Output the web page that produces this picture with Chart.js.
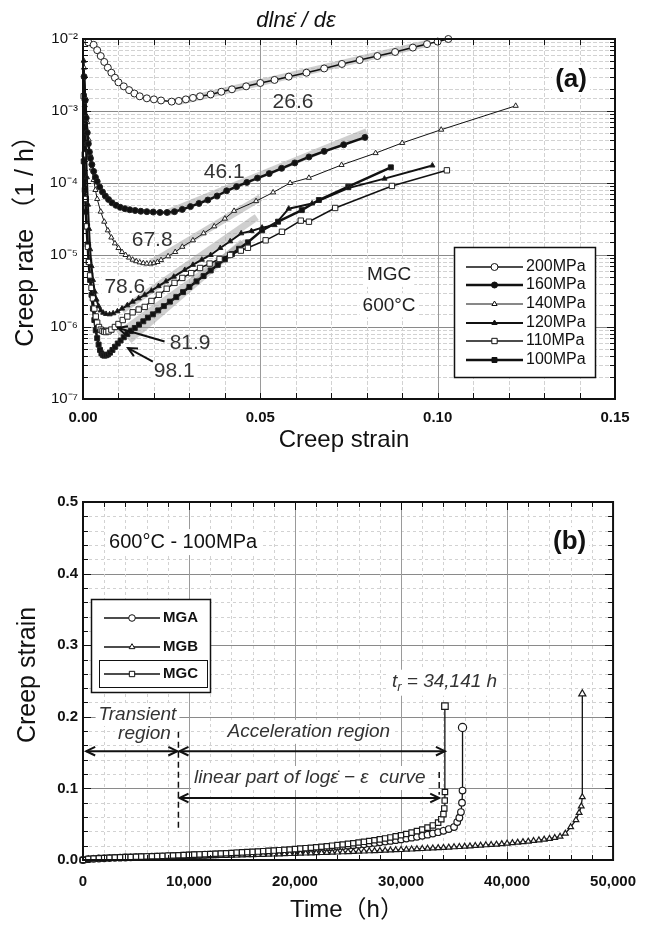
<!DOCTYPE html>
<html>
<head>
<meta charset="utf-8">
<script src="https://cdn.jsdelivr.net/npm/chart.js@4.4.1/dist/chart.umd.min.js"></script>
<style>
  body { margin: 0; background: #fff; }
  #wrap { position: relative; width: 649px; height: 926px; }
  canvas { position: absolute; left: 0; }
  #rateChart { top: 0; }
  #strainChart { top: 470px; }
</style>
</head>
<body>
<div id="wrap">
  <canvas id="rateChart" width="649" height="470"></canvas>
  <canvas id="strainChart" width="649" height="456"></canvas>
</div>
<script>
// ---- (a) creep rate against creep strain, MGC at 600 C ----
var stressNames = ['200MPa', '160MPa', '140MPa', '120MPa', '110MPa', '100MPa'];

var strain200 = [0.0015, 0.003, 0.004, 0.005, 0.006, 0.007, 0.008, 0.009, 0.010, 0.0115, 0.013, 0.0145, 0.016, 0.018, 0.020, 0.022, 0.025, 0.027, 0.029, 0.031, 0.033, 0.036, 0.039, 0.042, 0.046, 0.050, 0.054, 0.058, 0.063, 0.068, 0.073, 0.078, 0.083, 0.088, 0.093, 0.097, 0.100, 0.103];
var rate200 = [9e-3, 8.3e-3, 7e-3, 5.8e-3, 4.8e-3, 4e-3, 3.4e-3, 2.9e-3, 2.5e-3, 2.2e-3, 1.95e-3, 1.75e-3, 1.6e-3, 1.5e-3, 1.45e-3, 1.4e-3, 1.35e-3, 1.38e-3, 1.45e-3, 1.52e-3, 1.6e-3, 1.7e-3, 1.85e-3, 2.0e-3, 2.2e-3, 2.45e-3, 2.7e-3, 3.0e-3, 3.4e-3, 3.9e-3, 4.5e-3, 5.1e-3, 5.8e-3, 6.6e-3, 7.6e-3, 8.5e-3, 9.2e-3, 1.0e-2];

var strain160 = [0.0003, 0.0006, 0.0009, 0.0012, 0.0015, 0.0018, 0.0021, 0.0025, 0.003, 0.0035, 0.004, 0.0047, 0.0055, 0.0063, 0.0072, 0.0082, 0.0093, 0.0105, 0.0118, 0.0132, 0.0147, 0.0163, 0.018, 0.0198, 0.0217, 0.0237, 0.0258, 0.028, 0.0303, 0.0327, 0.0352, 0.0378, 0.0405, 0.0433, 0.0462, 0.0492, 0.0525, 0.056, 0.0597, 0.0637, 0.068, 0.0735, 0.0795];
var rate160 = [3e-3, 1.4e-3, 8e-4, 5e-4, 3.5e-4, 2.7e-4, 2.2e-4, 1.8e-4, 1.45e-4, 1.2e-4, 1.05e-4, 8.8e-5, 7.5e-5, 6.6e-5, 5.9e-5, 5.3e-5, 4.9e-5, 4.6e-5, 4.4e-5, 4.25e-5, 4.15e-5, 4.05e-5, 4.0e-5, 3.95e-5, 3.9e-5, 3.9e-5, 4.0e-5, 4.3e-5, 4.7e-5, 5.2e-5, 5.8e-5, 6.6e-5, 7.8e-5, 8.9e-5, 1.02e-4, 1.17e-4, 1.35e-4, 1.6e-4, 1.9e-4, 2.3e-4, 2.75e-4, 3.4e-4, 4.3e-4];

var strain140 = [0.0003, 0.0008, 0.0012, 0.0016, 0.002, 0.0025, 0.003, 0.0035, 0.004, 0.005, 0.006, 0.007, 0.008, 0.009, 0.010, 0.011, 0.012, 0.013, 0.014, 0.015, 0.016, 0.017, 0.018, 0.019, 0.020, 0.021, 0.022, 0.024, 0.026, 0.028, 0.031, 0.034, 0.037, 0.040, 0.0426, 0.0488, 0.0536, 0.0584, 0.0637, 0.0729, 0.0825, 0.090, 0.101, 0.122];
var rate140 = [4e-3, 1.5e-3, 7e-4, 4e-4, 2.5e-4, 1.6e-4, 1.1e-4, 8e-5, 6e-5, 4e-5, 2.9e-5, 2.2e-5, 1.75e-5, 1.45e-5, 1.25e-5, 1.1e-5, 1.0e-5, 9.2e-6, 8.6e-6, 8.2e-6, 7.9e-6, 7.7e-6, 7.6e-6, 7.6e-6, 7.7e-6, 8.0e-6, 8.5e-6, 9.6e-6, 1.1e-5, 1.3e-5, 1.6e-5, 2.0e-5, 2.5e-5, 3.2e-5, 4.1e-5, 5.6e-5, 7.4e-5, 1.0e-4, 1.18e-4, 1.78e-4, 2.6e-4, 3.6e-4, 5.5e-4, 1.18e-3];

var strain120 = [0.0002, 0.0005, 0.0008, 0.0011, 0.0014, 0.0017, 0.002, 0.0024, 0.0028, 0.0033, 0.0038, 0.0044, 0.005, 0.0057, 0.0065, 0.0075, 0.0085, 0.0097, 0.011, 0.0125, 0.014, 0.0157, 0.0174, 0.0193, 0.0213, 0.0234, 0.0256, 0.0287, 0.031, 0.0335, 0.036, 0.0387, 0.0415, 0.0446, 0.0475, 0.0505, 0.054, 0.058, 0.0646, 0.0748, 0.085, 0.0985];
var rate120 = [5e-3, 1.2e-3, 3.5e-4, 1.2e-4, 5e-5, 2.3e-5, 1.2e-5, 7e-6, 4.5e-6, 3.1e-6, 2.4e-6, 1.95e-6, 1.7e-6, 1.58e-6, 1.52e-6, 1.5e-6, 1.55e-6, 1.65e-6, 1.8e-6, 2.0e-6, 2.25e-6, 2.5e-6, 2.8e-6, 3.2e-6, 3.7e-6, 4.3e-6, 5.0e-6, 6.2e-6, 7.3e-6, 8.6e-6, 1.0e-5, 1.25e-5, 1.55e-5, 2.0e-5, 2.15e-5, 2.4e-5, 2.6e-5, 4.4e-5, 5.2e-5, 8.5e-5, 1.15e-4, 1.75e-4];

var strain110 = [0.0002, 0.0005, 0.0008, 0.0011, 0.0014, 0.0017, 0.002, 0.0024, 0.0028, 0.0032, 0.0036, 0.004, 0.0045, 0.005, 0.0055, 0.006, 0.0065, 0.0072, 0.008, 0.009, 0.010, 0.0112, 0.0125, 0.014, 0.0157, 0.0174, 0.0193, 0.0214, 0.0236, 0.0258, 0.028, 0.0305, 0.033, 0.0357, 0.0385, 0.0415, 0.0445, 0.0465, 0.0515, 0.0561, 0.0614, 0.0637, 0.0711, 0.0871, 0.1026];
var rate110 = [1.6e-3, 2.5e-4, 6e-5, 2.5e-5, 1.3e-5, 8e-6, 5.2e-6, 3.5e-6, 2.5e-6, 1.8e-6, 1.4e-6, 1.15e-6, 1.0e-6, 9.2e-7, 8.8e-7, 8.6e-7, 8.5e-7, 8.7e-7, 9.2e-7, 1.0e-6, 1.1e-6, 1.25e-6, 1.4e-6, 1.6e-6, 1.75e-6, 1.9e-6, 2.3e-6, 2.8e-6, 3.4e-6, 4.1e-6, 4.8e-6, 5.6e-6, 6.6e-6, 7.6e-6, 8.8e-6, 1.0e-5, 1.15e-5, 1.26e-5, 1.6e-5, 2.1e-5, 3.0e-5, 2.9e-5, 4.5e-5, 9.1e-5, 1.5e-4];

var strain100 = [0.0002, 0.0005, 0.0008, 0.001, 0.0013, 0.0016, 0.002, 0.0024, 0.0028, 0.0032, 0.0036, 0.004, 0.0044, 0.0048, 0.0052, 0.0056, 0.006, 0.0065, 0.007, 0.0076, 0.0083, 0.009, 0.0098, 0.0106, 0.0115, 0.0125, 0.0135, 0.0146, 0.0158, 0.017, 0.0183, 0.0197, 0.0212, 0.0228, 0.0245, 0.0263, 0.0282, 0.030, 0.032, 0.034, 0.036, 0.038, 0.040, 0.042, 0.044, 0.0465, 0.0505, 0.055, 0.0617, 0.0665, 0.0748, 0.0868];
var rate100 = [2e-4, 8e-5, 4e-5, 2.5e-5, 1.4e-5, 8e-6, 4.5e-6, 2.8e-6, 1.8e-6, 1.25e-6, 9e-7, 7e-7, 5.7e-7, 4.8e-7, 4.3e-7, 4.1e-7, 4.0e-7, 4.05e-7, 4.15e-7, 4.4e-7, 4.8e-7, 5.3e-7, 5.9e-7, 6.5e-7, 7.2e-7, 8.0e-7, 8.8e-7, 9.7e-7, 1.08e-6, 1.2e-6, 1.35e-6, 1.5e-6, 1.7e-6, 1.95e-6, 2.25e-6, 2.6e-6, 3.05e-6, 3.6e-6, 4.3e-6, 5.1e-6, 6.1e-6, 7.3e-6, 8.7e-6, 1.03e-5, 1.22e-5, 1.5e-5, 2.2e-5, 2.9e-5, 4.2e-5, 5.8e-5, 8.9e-5, 1.65e-4];

// straight parts of the log-rate curves: slope d ln(rate)/d strain and where each fit runs
var fitSlope = [26.6, 46.1, 67.8, 78.6, 81.9, 98.1];
var fitFromStrain = [0.027, 0.024, 0.019, 0.011, 0.010, 0.013];
var fitFromRate = [1.35e-3, 3.9e-5, 7.6e-6, 1.7e-6, 8e-7, 6.5e-7];
var fitToStrain = [0.098, 0.080, 0.050, 0.049, 0.046, 0.045];

var rateTickExps = [-2, -3, -4, -5, -6, -7];

// ---- (b) creep curves at 600 C - 100 MPa ----
var heatNames = ['MGA', 'MGB', 'MGC'];
var hours = [0, 500, 1000, 1500, 2000, 2500, 3000, 3500, 4000, 4500, 5000, 5500, 6000, 6500, 7000, 7500, 8000, 8500, 9000, 9500, 10000, 10500, 11000, 11500, 12000, 12500, 13000, 13500, 14000, 14500, 15000, 15500, 16000, 16500, 17000, 17500, 18000, 18500, 19000, 19500, 20000, 20500, 21000, 21500, 22000, 22500, 23000, 23500, 24000, 24500, 25000, 25500, 26000, 26500, 27000, 27500, 28000, 28500, 29000, 29500, 30000, 30500, 31000, 31500, 32000, 32500, 33000, 33500, 34000, 34500, 35000, 35500, 36000, 36500, 37000, 37500, 38000, 38500, 39000, 39500, 40000, 40500, 41000, 41500, 42000, 42500, 43000, 43500, 44000, 44500, 45000, 45500, 46000, 46500, 47000];

var mgaStrain = [0, 0.0012, 0.0017, 0.0021, 0.0024, 0.0027, 0.003, 0.0032, 0.0035, 0.0037, 0.0039, 0.0041, 0.0044, 0.0046, 0.0048, 0.0051, 0.0053, 0.0056, 0.0058, 0.0061, 0.0064, 0.0067, 0.007, 0.0073, 0.0076, 0.0079, 0.0082, 0.0085, 0.0089, 0.0092, 0.0096, 0.0099, 0.0103, 0.0107, 0.0111, 0.0115, 0.0119, 0.0124, 0.0128, 0.0133, 0.0138, 0.0143, 0.0148, 0.0154, 0.0159, 0.0165, 0.0171, 0.0177, 0.0184, 0.0191, 0.0198, 0.0205, 0.0213, 0.0221, 0.0229, 0.0238, 0.0247, 0.0257, 0.0267, 0.0277, 0.0288, 0.03, 0.0312, 0.0325, 0.0339, 0.0354, 0.037, 0.0388, 0.0408, 0.0432, 0.046];
var mgaTailHours = [35300, 35500, 35650, 35750, 35800, 35800];
var mgaTailStrain = [0.053, 0.059, 0.067, 0.08, 0.097, 0.185];

var mgbStrain = [0, 0.001, 0.0014, 0.0017, 0.002, 0.0022, 0.0024, 0.0026, 0.0028, 0.003, 0.0032, 0.0033, 0.0035, 0.0037, 0.0038, 0.004, 0.0042, 0.0043, 0.0045, 0.0047, 0.0048, 0.005, 0.0052, 0.0054, 0.0055, 0.0057, 0.0059, 0.0061, 0.0063, 0.0065, 0.0067, 0.0069, 0.0071, 0.0073, 0.0075, 0.0077, 0.0079, 0.0081, 0.0083, 0.0086, 0.0088, 0.009, 0.0093, 0.0095, 0.0097, 0.01, 0.0102, 0.0105, 0.0107, 0.011, 0.0113, 0.0115, 0.0118, 0.0121, 0.0124, 0.0127, 0.013, 0.0133, 0.0136, 0.0139, 0.0142, 0.0146, 0.0149, 0.0153, 0.0156, 0.016, 0.0164, 0.0168, 0.0172, 0.0176, 0.018, 0.0184, 0.0189, 0.0193, 0.0198, 0.0203, 0.0208, 0.0213, 0.0218, 0.0224, 0.0232, 0.0238, 0.0245, 0.0252, 0.026, 0.0268, 0.0277, 0.0287, 0.0298, 0.0311, 0.0328, 0.037, 0.046, 0.056];
var mgbTailHours = [46800, 47000, 47100, 47100];
var mgbTailStrain = [0.066, 0.075, 0.088, 0.232];

var mgcStrain = [0, 0.0015, 0.002, 0.0024, 0.0028, 0.0031, 0.0034, 0.0037, 0.004, 0.0042, 0.0045, 0.0047, 0.005, 0.0052, 0.0055, 0.0057, 0.006, 0.0063, 0.0066, 0.0069, 0.0072, 0.0075, 0.0078, 0.0081, 0.0084, 0.0087, 0.0091, 0.0094, 0.0098, 0.0102, 0.0106, 0.011, 0.0114, 0.0118, 0.0123, 0.0127, 0.0132, 0.0137, 0.0142, 0.0147, 0.0153, 0.0159, 0.0165, 0.0171, 0.0178, 0.0185, 0.0192, 0.02, 0.0208, 0.0216, 0.0225, 0.0234, 0.0244, 0.0254, 0.0265, 0.0276, 0.0288, 0.0301, 0.0315, 0.033, 0.0346, 0.0363, 0.0382, 0.0403, 0.0426, 0.0452, 0.0483, 0.0522];
var mgcTailHours = [33800, 34000, 34080, 34120, 34141, 34141];
var mgcTailStrain = [0.057, 0.064, 0.072, 0.083, 0.095, 0.215];

var ruptureHours = 34141;
var transientEnd = 9000;
var linearEnd = 33600;

var FONT = '"Liberation Sans", Arial, sans-serif';
Chart.defaults.font.family = FONT;
Chart.defaults.color = '#111';

function pairs(xs, ys) {
  return xs.map(function (x, i) { return { x: x, y: ys[i] }; });
}

function isDecade(v) {
  var l = Math.log10(v);
  return Math.abs(l - Math.round(l)) < 1e-6;
}

function supText(n) {
  var map = { '-': '\u207B', '0': '\u2070', '1': '\u00B9', '2': '\u00B2', '3': '\u00B3', '4': '\u2074', '5': '\u2075', '6': '\u2076', '7': '\u2077', '8': '\u2078', '9': '\u2079' };
  return String(n).split('').map(function (c) { return map[c]; }).join('');
}

function hline(ctx, x1, x2, y, color, dash) {
  ctx.beginPath();
  ctx.setLineDash(dash || []);
  ctx.strokeStyle = color;
  ctx.lineWidth = 1;
  y = Math.round(y) + 0.5;
  ctx.moveTo(x1, y); ctx.lineTo(x2, y);
  ctx.stroke();
  ctx.setLineDash([]);
}

function vline(ctx, x, y1, y2, color, dash) {
  ctx.beginPath();
  ctx.setLineDash(dash || []);
  ctx.strokeStyle = color;
  ctx.lineWidth = 1;
  x = Math.round(x) + 0.5;
  ctx.moveTo(x, y1); ctx.lineTo(x, y2);
  ctx.stroke();
  ctx.setLineDash([]);
}

function text(ctx, s, x, y, font, opt) {
  opt = opt || {};
  ctx.font = font;
  ctx.textAlign = opt.align || 'center';
  ctx.textBaseline = 'middle';
  if (opt.bg) {
    var w = ctx.measureText(s).width, h = opt.bgH || 20;
    var left = ctx.textAlign === 'center' ? x - w / 2 : (ctx.textAlign === 'right' ? x - w : x);
    ctx.fillStyle = '#fff';
    ctx.fillRect(left - 3, y - h / 2, w + 6, h);
  }
  ctx.fillStyle = opt.color || '#111';
  ctx.fillText(s, x, y);
}

function arrowHead(ctx, x, y, ang) {
  var len = 10, spread = 0.45;
  ctx.beginPath();
  ctx.moveTo(x + len * Math.cos(ang + spread), y + len * Math.sin(ang + spread));
  ctx.lineTo(x, y);
  ctx.lineTo(x + len * Math.cos(ang - spread), y + len * Math.sin(ang - spread));
  ctx.stroke();
}

// arrow from (x1,y1) with its head at (x2,y2); both ends when twoWay
function arrow(ctx, x1, y1, x2, y2, twoWay) {
  ctx.save();
  ctx.strokeStyle = '#111';
  ctx.lineWidth = 2;
  ctx.beginPath();
  ctx.moveTo(x1, y1); ctx.lineTo(x2, y2);
  ctx.stroke();
  var ang = Math.atan2(y1 - y2, x1 - x2);
  arrowHead(ctx, x2, y2, ang);
  if (twoWay) arrowHead(ctx, x1, y1, ang + Math.PI);
  ctx.restore();
}

function frame(ctx, a) {
  ctx.save();
  ctx.strokeStyle = '#111';
  ctx.lineWidth = 2;
  ctx.strokeRect(a.left, a.top, a.right - a.left, a.bottom - a.top);
  ctx.restore();
}

function legendRow(ctx, x1, x2, y, style, filled, r, label, font, lw) {
  ctx.save();
  ctx.strokeStyle = '#111';
  ctx.lineWidth = lw;
  ctx.beginPath();
  ctx.moveTo(x1, y); ctx.lineTo(x2, y);
  ctx.stroke();
  ctx.fillStyle = filled ? '#111' : '#fff';
  ctx.lineWidth = 1;
  Chart.helpers.drawPoint(ctx, { pointStyle: style, radius: r, borderWidth: 1, rotation: 0 }, (x1 + x2) / 2, y);
  ctx.restore();
  text(ctx, label, x2 + 3, y, font, { align: 'left' });
}

// ---- panel (a) ----
var rateStyles = [
  { pts: 'circle', fill: false, r: 3.5, lw: 1.5 },
  { pts: 'circle', fill: true, r: 3, lw: 2.5 },
  { pts: 'triangle', fill: false, r: 3, lw: 1 },
  { pts: 'triangle', fill: true, r: 3, lw: 2 },
  { pts: 'rect', fill: false, r: 3.8, lw: 1.5 },
  { pts: 'rect', fill: true, r: 3.5, lw: 2.5 }
];
var rateSeries = [
  pairs(strain200, rate200), pairs(strain160, rate160), pairs(strain140, rate140),
  pairs(strain120, rate120), pairs(strain110, rate110), pairs(strain100, rate100)
];

var rateDatasets = [];
fitSlope.forEach(function (k, i) {
  var x1 = fitFromStrain[i], y1 = fitFromRate[i], x2 = fitToStrain[i];
  rateDatasets.push({
    label: 'fit ' + k,
    data: [{ x: x1, y: y1 }, { x: x2, y: y1 * Math.exp(k * (x2 - x1)) }],
    borderColor: 'rgba(160,160,160,0.5)',
    borderWidth: 7,
    borderCapStyle: 'butt',
    pointRadius: 0,
    order: 10
  });
});
stressNames.forEach(function (name, i) {
  var st = rateStyles[i];
  rateDatasets.push({
    label: name,
    data: rateSeries[i],
    borderColor: '#111',
    borderWidth: st.lw,
    pointStyle: st.pts,
    pointRadius: st.r,
    pointBorderWidth: 1,
    pointBorderColor: '#222',
    pointBackgroundColor: st.fill ? '#111' : '#fff',
    clip: 8,
    order: 1
  });
});

var panelA = {
  id: 'panelA',
  beforeDatasetsDraw: function (chart) {
    var ctx = chart.ctx, a = chart.chartArea, xs = chart.scales.x, ys = chart.scales.y;
    ctx.save();
    ys.ticks.forEach(function (t) {
      var y = ys.getPixelForValue(t.value);
      if (isDecade(t.value)) hline(ctx, a.left, a.right, y, '#8a8a8a');
      else hline(ctx, a.left, a.right, y, '#d2d2d2', [4, 2]);
    });
    xs.ticks.forEach(function (t) {
      var x = xs.getPixelForValue(t.value);
      var major = Math.abs(t.value / 0.05 - Math.round(t.value / 0.05)) < 1e-6;
      if (major) vline(ctx, x, a.top, a.bottom, '#9a9a9a');
      else vline(ctx, x, a.top, a.bottom, '#d2d2d2', [4, 2]);
    });
    // notes sitting on the grid
    var px = function (v) { return xs.getPixelForValue(v); };
    var py = function (v) { return ys.getPixelForValue(v); };
    text(ctx, 'MGC', px(0.0863), py(5.3e-6), '19px ' + FONT, { bg: true, bgH: 24, color: '#222' });
    text(ctx, '600\u00B0C', px(0.0863), py(2.0e-6), '19px ' + FONT, { bg: true, bgH: 24, color: '#222' });
    text(ctx, '(a)', px(0.1376), py(2.7e-3), 'bold 26px ' + FONT, { bg: true, bgH: 30 });
    var slopePos = [[0.0592, 1.33e-3], [0.0398, 1.42e-4], [0.0195, 1.62e-5], [0.0118, 3.6e-6], [0.0302, 6.0e-7], [0.0257, 2.4e-7]];
    fitSlope.forEach(function (k, i) {
      text(ctx, k.toFixed(1), px(slopePos[i][0]), py(slopePos[i][1]), '21px ' + FONT, { bg: i === 3 || i === 5, bgH: 22, color: '#333' });
    });
    ctx.restore();
  },
  afterDatasetsDraw: function (chart) {
    var ctx = chart.ctx, a = chart.chartArea, xs = chart.scales.x, ys = chart.scales.y;
    var px = function (v) { return xs.getPixelForValue(v); };
    var py = function (v) { return ys.getPixelForValue(v); };
    ctx.save();
    ctx.strokeStyle = '#111';
    ctx.lineWidth = 1;
    // inward tick marks on all four sides
    xs.ticks.forEach(function (t) {
      var x = Math.round(px(t.value)) + 0.5;
      ctx.beginPath();
      ctx.moveTo(x, a.bottom); ctx.lineTo(x, a.bottom - 6);
      ctx.moveTo(x, a.top); ctx.lineTo(x, a.top + 6);
      ctx.stroke();
    });
    ys.ticks.forEach(function (t) {
      var y = Math.round(py(t.value)) + 0.5, len = isDecade(t.value) ? 8 : 5;
      ctx.beginPath();
      ctx.moveTo(a.left, y); ctx.lineTo(a.left + len, y);
      ctx.moveTo(a.right, y); ctx.lineTo(a.right - len, y);
      ctx.stroke();
    });
    frame(ctx, a);
    // pointers to the two lowest curves
    arrow(ctx, px(0.023), py(6.3e-7), px(0.0099), py(9.7e-7));
    arrow(ctx, px(0.0197), py(3.3e-7), px(0.0127), py(5.1e-7));
    // legend
    ctx.fillStyle = '#fff';
    ctx.fillRect(454, 247, 141, 130);
    ctx.strokeStyle = '#111';
    ctx.lineWidth = 1.5;
    ctx.strokeRect(454.5, 247.5, 141, 130);
    var rowY = [267, 285, 304, 323, 341, 360];
    stressNames.forEach(function (name, i) {
      var st = rateStyles[i];
      legendRow(ctx, 466, 523, rowY[i], st.pts, st.fill, st.r, name, '16px ' + FONT, st.lw);
    });
    ctx.restore();
  },
  afterDraw: function (chart) {
    var ctx = chart.ctx;
    ctx.save();
    text(ctx, 'dln\u03B5\u0307 / d\u03B5', 296, 21, 'italic 22px ' + FONT);
    text(ctx, 'Creep strain', 344, 440, '24px ' + FONT);
    ctx.translate(26, 235);
    ctx.rotate(-Math.PI / 2);
    text(ctx, 'Creep rate \uFF081 / h\uFF09', 0, 0, '25px ' + FONT + ', "Noto Sans CJK JP"');
    ctx.restore();
  }
};

new Chart(document.getElementById('rateChart'), {
  type: 'line',
  data: { datasets: rateDatasets },
  options: {
    responsive: false,
    animation: false,
    devicePixelRatio: 1,
    layout: { padding: { top: 39, right: 34, left: 0, bottom: 0 } },
    plugins: { legend: { display: false }, tooltip: { enabled: false } },
    elements: { line: { tension: 0 } },
    scales: {
      x: {
        type: 'linear', min: 0, max: 0.15,
        afterFit: function (s) { s.height = 71; },
        grid: { display: false, drawTicks: false },
        border: { display: false },
        ticks: {
          stepSize: 0.01, maxTicksLimit: 100, autoSkip: false, maxRotation: 0, padding: 10,
          font: { size: 15, weight: 'bold' },
          callback: function (v) {
            return Math.abs(v / 0.05 - Math.round(v / 0.05)) < 1e-6 ? v.toFixed(2) : '';
          }
        }
      },
      y: {
        type: 'logarithmic', min: 1e-7, max: 1e-2,
        afterFit: function (s) { s.width = 83; },
        grid: { display: false, drawTicks: false },
        border: { display: false },
        ticks: {
          autoSkip: false, padding: 5,
          font: { size: 15 },
          callback: function (v) {
            if (!isDecade(v)) return '';
            var e = Math.round(Math.log10(v));
            return rateTickExps.indexOf(e) >= 0 ? '10' + supText(e) : '';
          }
        }
      }
    }
  },
  plugins: [panelA]
});

// ---- panel (b) ----
var heatStyles = [
  { pts: 'circle', r: 3.3 },
  { pts: 'triangle', r: 3.3 },
  { pts: 'rect', r: 3.8 }
];
var heatSeries = [
  pairs(hours.slice(0, mgaStrain.length).concat(mgaTailHours), mgaStrain.concat(mgaTailStrain)),
  pairs(hours.slice(0, mgbStrain.length).concat(mgbTailHours), mgbStrain.concat(mgbTailStrain)),
  pairs(hours.slice(0, mgcStrain.length).concat(mgcTailHours), mgcStrain.concat(mgcTailStrain))
];
var strainDatasets = heatNames.map(function (name, i) {
  return {
    label: name,
    data: heatSeries[i],
    borderColor: '#111',
    borderWidth: 1.3,
    pointStyle: heatStyles[i].pts,
    pointRadius: function (c) { return c.dataIndex === heatSeries[i].length - 1 ? heatStyles[i].r + 0.8 : heatStyles[i].r; },
    pointBorderWidth: 1.2,
    pointBorderColor: '#1a1a1a',
    pointBackgroundColor: '#fff',
    clip: 8,
    order: 3 - i
  };
});

var panelB = {
  id: 'panelB',
  beforeDatasetsDraw: function (chart) {
    var ctx = chart.ctx, a = chart.chartArea, xs = chart.scales.x, ys = chart.scales.y;
    var px = function (v) { return xs.getPixelForValue(v); };
    var py = function (v) { return ys.getPixelForValue(v); };
    ctx.save();
    ys.ticks.forEach(function (t) {
      var y = py(t.value), major = Math.abs(t.value * 10 - Math.round(t.value * 10)) < 1e-6;
      if (major) hline(ctx, a.left, a.right, y, '#8a8a8a');
      else hline(ctx, a.left, a.right, y, '#d2d2d2', [3, 3]);
    });
    xs.ticks.forEach(function (t) {
      var x = px(t.value);
      if (t.value % 10000 === 0) vline(ctx, x, a.top, a.bottom, '#9a9a9a');
      else vline(ctx, x, a.top, a.bottom, '#d2d2d2', [3, 3]);
    });
    var it = 'italic 19px ' + FONT;
    text(ctx, '600\u00B0C - 100MPa', px(9440), py(0.444), '20px ' + FONT, { bg: true, bgH: 26 });
    text(ctx, '(b)', px(45900), py(0.444), 'bold 26px ' + FONT, { bg: true, bgH: 30 });
    text(ctx, 'Transient', px(5140), py(0.2025), it, { bg: true, bgH: 22, color: '#333' });
    text(ctx, 'region', px(5800), py(0.176), it, { bg: true, bgH: 20, color: '#333' });
    text(ctx, 'Acceleration region', px(21300), py(0.179), it, { bg: true, bgH: 24, color: '#333' });
    text(ctx, 'linear part of log\u03B5\u0307 \u2212 \u03B5  curve', px(21400), py(0.1145), it, { bg: true, bgH: 24, color: '#333' });
    // rupture time label with subscript r
    ctx.font = it;
    var rest = ' = ' + ruptureHours.toLocaleString('en-US') + ' h';
    var wT = ctx.measureText('t').width, wR, wRest = ctx.measureText(rest).width;
    ctx.font = 'italic 13px ' + FONT; wR = ctx.measureText('r').width;
    var total = wT + wR + wRest, x0 = px(34100) - total / 2, yT = py(0.249);
    ctx.fillStyle = '#fff';
    ctx.fillRect(x0 - 3, yT - 12, total + 6, 26);
    text(ctx, 't', x0, yT, it, { align: 'left', color: '#333' });
    text(ctx, 'r', x0 + wT, yT + 6, 'italic 13px ' + FONT, { align: 'left', color: '#333' });
    text(ctx, rest, x0 + wT + wR, yT, it, { align: 'left', color: '#333' });
    ctx.restore();
  },
  afterDatasetsDraw: function (chart) {
    var ctx = chart.ctx, a = chart.chartArea, xs = chart.scales.x, ys = chart.scales.y;
    var px = function (v) { return xs.getPixelForValue(v); };
    var py = function (v) { return ys.getPixelForValue(v); };
    ctx.save();
    ctx.strokeStyle = '#111';
    ctx.lineWidth = 1;
    xs.ticks.forEach(function (t) {
      var x = Math.round(px(t.value)) + 0.5, len = t.value % 10000 === 0 ? 8 : 5;
      ctx.beginPath();
      ctx.moveTo(x, a.bottom); ctx.lineTo(x, a.bottom - len);
      ctx.moveTo(x, a.top); ctx.lineTo(x, a.top + len);
      ctx.stroke();
    });
    ys.ticks.forEach(function (t) {
      var y = Math.round(py(t.value)) + 0.5, len = Math.abs(t.value * 10 - Math.round(t.value * 10)) < 1e-6 ? 8 : 5;
      ctx.beginPath();
      ctx.moveTo(a.left, y); ctx.lineTo(a.left + len, y);
      ctx.moveTo(a.right, y); ctx.lineTo(a.right - len, y);
      ctx.stroke();
    });
    frame(ctx, a);
    // region markers
    ctx.lineWidth = 1.5;
    ctx.setLineDash([6, 4]);
    ctx.beginPath();
    ctx.moveTo(px(transientEnd), py(0.179)); ctx.lineTo(px(transientEnd), py(0.039));
    ctx.moveTo(px(linearEnd), py(0.123)); ctx.lineTo(px(linearEnd), py(0.091));
    ctx.stroke();
    ctx.setLineDash([]);
    arrow(ctx, px(300), py(0.152), px(transientEnd - 100), py(0.152), true);
    arrow(ctx, px(transientEnd + 100), py(0.152), px(ruptureHours), py(0.152), true);
    arrow(ctx, px(transientEnd + 100), py(0.0866), px(linearEnd), py(0.0866), true);
    // legend box
    var top = 129;
    ctx.fillStyle = '#fff';
    ctx.fillRect(91, top, 119, 93);
    ctx.strokeStyle = '#111';
    ctx.lineWidth = 1.5;
    ctx.strokeRect(91.5, top + 0.5, 119, 93);
    ctx.lineWidth = 1;
    ctx.strokeRect(99.5, top + 61.5, 108, 27);
    var rowY = [top + 19, top + 48, top + 75];
    heatNames.forEach(function (name, i) {
      legendRow(ctx, 104, 160, rowY[i], heatStyles[i].pts, false, heatStyles[i].r, name, 'bold 15px ' + FONT, 1.5);
    });
    ctx.restore();
  },
  afterDraw: function (chart) {
    var ctx = chart.ctx;
    ctx.save();
    text(ctx, 'Time\uFF08h\uFF09', 347, 440, '24px ' + FONT + ', "Noto Sans CJK JP"');
    ctx.translate(28, 205);
    ctx.rotate(-Math.PI / 2);
    text(ctx, 'Creep strain', 0, 0, '25px ' + FONT);
    ctx.restore();
  }
};

new Chart(document.getElementById('strainChart'), {
  type: 'line',
  data: { datasets: strainDatasets },
  options: {
    responsive: false,
    animation: false,
    devicePixelRatio: 1,
    layout: { padding: { top: 32, right: 31, left: 0, bottom: 0 } },
    plugins: { legend: { display: false }, tooltip: { enabled: false } },
    elements: { line: { tension: 0 } },
    scales: {
      x: {
        type: 'linear', min: 0, max: 50000,
        afterFit: function (s) { s.height = 66; },
        grid: { display: false, drawTicks: false },
        border: { display: false },
        ticks: {
          stepSize: 2000, maxTicksLimit: 100, autoSkip: false, maxRotation: 0, padding: 13,
          font: { size: 15, weight: 'bold' },
          callback: function (v) {
            return v % 10000 === 0 ? v.toLocaleString('en-US') : '';
          }
        }
      },
      y: {
        type: 'linear', min: 0, max: 0.5,
        afterFit: function (s) { s.width = 83; },
        grid: { display: false, drawTicks: false },
        border: { display: false },
        ticks: {
          stepSize: 0.02, maxTicksLimit: 100, autoSkip: false, padding: 5,
          font: { size: 15, weight: 'bold' },
          callback: function (v) {
            return Math.abs(v * 10 - Math.round(v * 10)) < 1e-6 ? v.toFixed(1) : '';
          }
        }
      }
    }
  },
  plugins: [panelB]
});
</script>
</body>
</html>
